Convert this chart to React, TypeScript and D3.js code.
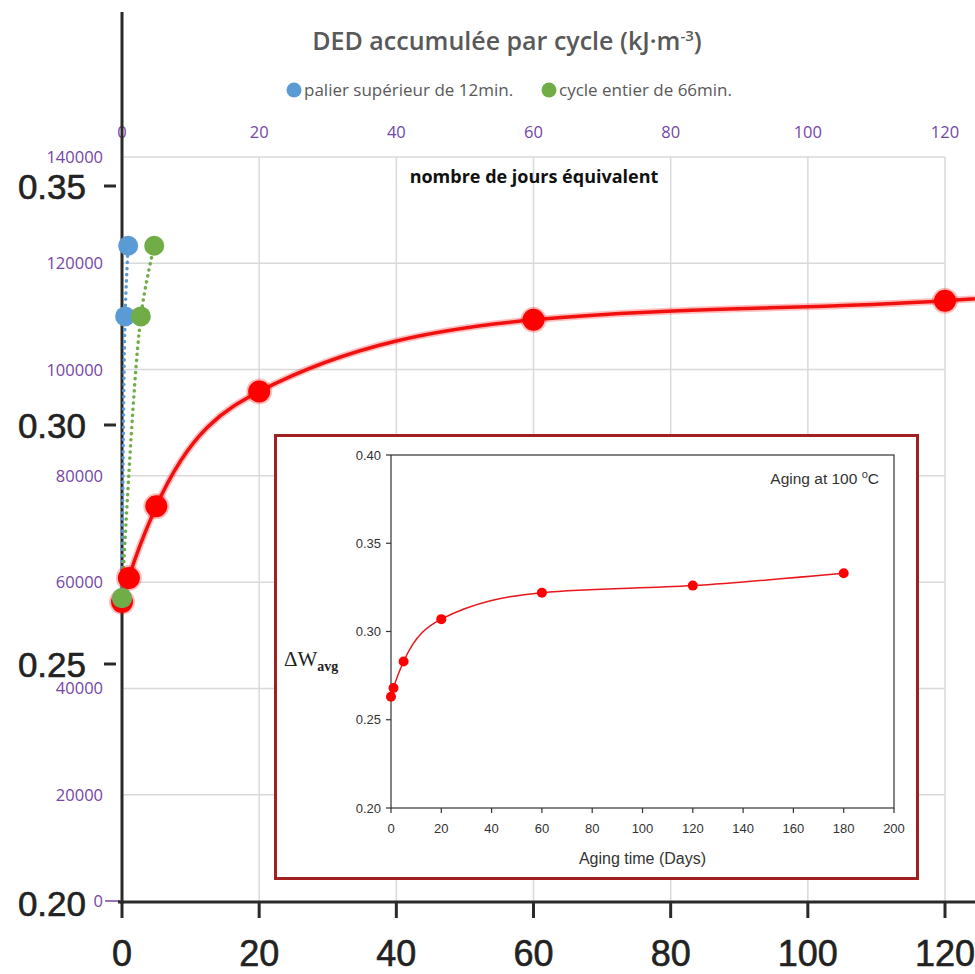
import React from 'react';
import * as d3 from 'd3';

// ---- data ----
const days = [0, 1, 5, 20, 60, 120, 180];
const dWavg = [0.263, 0.268, 0.283, 0.307, 0.322, 0.326, 0.333];
const blueDays = [0, 0.45, 0.9];
const blueDED = [57000, 110000, 123300];
const greenDays = [0, 2.75, 4.7];
const greenDED = [57000, 110000, 123300];
const mainXTicks = [0, 20, 40, 60, 80, 100, 120];
const mainYTicks = [0.2, 0.25, 0.3, 0.35];
const dedTicks = [0, 20000, 40000, 60000, 80000, 100000, 120000, 140000];
const insetXTicks = [0, 20, 40, 60, 80, 100, 120, 140, 160, 180, 200];
const insetYTicks = [0.2, 0.25, 0.3, 0.35, 0.4];

const titleText = 'DED accumulée par cycle (kJ·m';
const legendBlue = 'palier supérieur de 12min.';
const legendGreen = 'cycle entier de 66min.';
const topAxisTitle = 'nombre de jours équivalent';

const W = 975;
const H = 974;

export default function App() {
  const x = d3.scaleLinear().domain([0, 120]).range([122, 945]);
  const yMain = d3.scaleLinear().domain([0.2, 0.35]).range([903, 186]);
  const yDED = d3.scaleLinear().domain([0, 140000]).range([901, 157]);
  const xIn = d3.scaleLinear().domain([0, 200]).range([391, 894]);
  const yIn = d3.scaleLinear().domain([0.2, 0.4]).range([808, 455]);

  const mainLine = d3
    .line<number>()
    .x((_, i) => x(days[i]))
    .y((d) => yMain(d))
    .curve(d3.curveMonotoneX);
  const blueLine = d3
    .line<number>()
    .x((_, i) => x(blueDays[i]))
    .y((d) => yDED(d))
    .curve(d3.curveCatmullRom.alpha(0.5));
  const greenLine = d3
    .line<number>()
    .x((_, i) => x(greenDays[i]))
    .y((d) => yDED(d))
    .curve(d3.curveCatmullRom.alpha(0.5));
  const insetLine = d3
    .line<number>()
    .x((_, i) => xIn(days[i]))
    .y((d) => yIn(d))
    .curve(d3.curveMonotoneX);

  const purple = '#7446a6';
  const grid = '#d9d9d9';
  const dark = '#2a2a2a';
  const big = "'Liberation Sans', Arial, sans-serif";
  const excel = "'Open Sans', 'Noto Sans', sans-serif";

  return (
    <svg
      width={W}
      height={H}
      style={{ position: 'absolute', left: 0, top: 0, background: '#fff' }}
    >
      <rect x={0} y={0} width={W} height={H} fill="#fff" />

      {/* grid */}
      {mainXTicks.slice(1).map((t) => (
        <line key={'vx' + t} x1={x(t)} x2={x(t)} y1={yDED(140000)} y2={yDED(0)} stroke={grid} strokeWidth={1.5} />
      ))}
      {dedTicks.slice(1).map((t) => (
        <line key={'hy' + t} x1={x(0)} x2={x(120)} y1={yDED(t)} y2={yDED(t)} stroke={grid} strokeWidth={1.5} />
      ))}

      {/* title & legend */}
      <text x={507} y={50} textAnchor="middle" fontFamily={excel} fontWeight={600} fontSize={25} fill="#595959">
        {titleText}
        <tspan dy={-9} fontSize={15}>-3</tspan>
        <tspan dy={9}>)</tspan>
      </text>
      <circle cx={294} cy={90} r={7.5} fill="#5b9bd5" />
      <text x={304} y={96} fontFamily={excel} fontSize={17} fill="#595959">{legendBlue}</text>
      <circle cx={549} cy={90} r={7.5} fill="#70ad47" />
      <text x={559} y={96} fontFamily={excel} fontSize={17} fill="#595959">{legendGreen}</text>

      {/* purple top axis labels */}
      {mainXTicks.map((t) => (
        <text key={'tx' + t} x={x(t)} y={138} textAnchor="middle" fontFamily={excel} fontSize={16.5} fill={purple}>
          {t}
        </text>
      ))}
      <text x={534} y={183} textAnchor="middle" fontFamily={excel} fontWeight={700} fontSize={18} fill="#111">
        {topAxisTitle}
      </text>

      {/* purple left axis labels */}
      {dedTicks.map((t) => (
        <text key={'dy' + t} x={103} y={yDED(t) + 6} textAnchor="end" fontFamily={excel} fontSize={16.5} fill={purple}>
          {t}
        </text>
      ))}
      <line x1={105} x2={120} y1={yDED(0)} y2={yDED(0)} stroke={purple} strokeWidth={1.5} />

      {/* big black axes */}
      <line x1={122} x2={122} y1={12} y2={904} stroke={dark} strokeWidth={3} />
      <line x1={118} x2={W} y1={902} y2={902} stroke={dark} strokeWidth={3} />
      {mainYTicks.slice(1).map((t) => (
        <line key={'myt' + t} x1={104} x2={116} y1={yMain(t)} y2={yMain(t)} stroke={dark} strokeWidth={3} />
      ))}
      {mainXTicks.map((t) => (
        <line key={'mxt' + t} x1={x(t)} x2={x(t)} y1={902} y2={918} stroke={dark} strokeWidth={3} />
      ))}
      {mainYTicks.map((t) => (
        <text key={'myl' + t} x={86} y={yMain(t) + 12.5} textAnchor="end" fontFamily={big} fontSize={35} fill="#222" stroke="#222" strokeWidth={0.6}>
          {t.toFixed(2)}
        </text>
      ))}
      {mainXTicks.map((t) => (
        <text key={'mxl' + t} x={x(t)} y={966} textAnchor="middle" fontFamily={big} fontSize={36} fill="#222" stroke="#222" strokeWidth={0.6}>
          {t}
        </text>
      ))}

      {/* blue & green dotted series */}
      <path d={blueLine(blueDED) || ''} fill="none" stroke="#5b9bd5" strokeWidth={3.5} strokeDasharray="0.1 6" strokeLinecap="round" />
      <path d={greenLine(greenDED) || ''} fill="none" stroke="#70ad47" strokeWidth={3.5} strokeDasharray="0.1 6" strokeLinecap="round" />

      {/* red main series */}
      <path d={mainLine(dWavg) || ''} fill="none" stroke="#ff0000" strokeOpacity={0.25} strokeWidth={7} />
      <path d={mainLine(dWavg) || ''} fill="none" stroke="#f01010" strokeWidth={3.5} />
      {dWavg.map((v, i) => (
        <g key={'rm' + i}>
          <circle cx={x(days[i])} cy={yMain(v)} r={13} fill="#ff0000" fillOpacity={0.25} />
          <circle cx={x(days[i])} cy={yMain(v)} r={11} fill="#ff0000" />
        </g>
      ))}

      {blueDED.map((v, i) => (
        <circle key={'bm' + i} cx={x(blueDays[i])} cy={yDED(v)} r={10} fill="#5b9bd5" />
      ))}
      {greenDED.map((v, i) => (
        <circle key={'gm' + i} cx={x(greenDays[i])} cy={yDED(v)} r={10} fill="#70ad47" />
      ))}

      {/* inset */}
      <rect x={275.5} y={435.5} width={642} height={443} fill="#fff" stroke="#a01f1f" strokeWidth={3} />
      <rect x={xIn(0)} y={yIn(0.4)} width={xIn(200) - xIn(0)} height={yIn(0.2) - yIn(0.4)} fill="none" stroke="#333" strokeWidth={1.2} />
      {insetYTicks.map((t) => (
        <g key={'iy' + t}>
          <line x1={xIn(0) - 5} x2={xIn(0)} y1={yIn(t)} y2={yIn(t)} stroke="#333" strokeWidth={1.2} />
          <text x={xIn(0) - 10} y={yIn(t) + 4.5} textAnchor="end" fontFamily={big} fontSize={13} fill="#333">
            {t.toFixed(2)}
          </text>
        </g>
      ))}
      {insetXTicks.map((t) => (
        <g key={'ix' + t}>
          <line x1={xIn(t)} x2={xIn(t)} y1={yIn(0.2)} y2={yIn(0.2) + 5} stroke="#333" strokeWidth={1.2} />
          <text x={xIn(t)} y={yIn(0.2) + 25} textAnchor="middle" fontFamily={big} fontSize={13} fill="#333">
            {t}
          </text>
        </g>
      ))}
      <text x={xIn(100)} y={864} textAnchor="middle" fontFamily={big} fontSize={16} fill="#333">
        Aging time (Days)
      </text>
      <text x={284} y={666} fontFamily="'Liberation Serif', 'DejaVu Serif', serif" fontSize={21} fill="#222">
        ΔW<tspan dy={5} fontSize={14} fontWeight={700}>avg</tspan>
      </text>
      <text x={879} y={484} textAnchor="end" fontFamily={big} fontSize={15.5} fill="#333">
        Aging at 100 <tspan dy={-6} fontSize={11}>o</tspan>
        <tspan dy={6}>C</tspan>
      </text>
      <path d={insetLine(dWavg) || ''} fill="none" stroke="#e8161b" strokeWidth={1.5} />
      {dWavg.map((v, i) => (
        <circle key={'im' + i} cx={xIn(days[i])} cy={yIn(v)} r={5} fill="#ff0000" />
      ))}
    </svg>
  );
}
